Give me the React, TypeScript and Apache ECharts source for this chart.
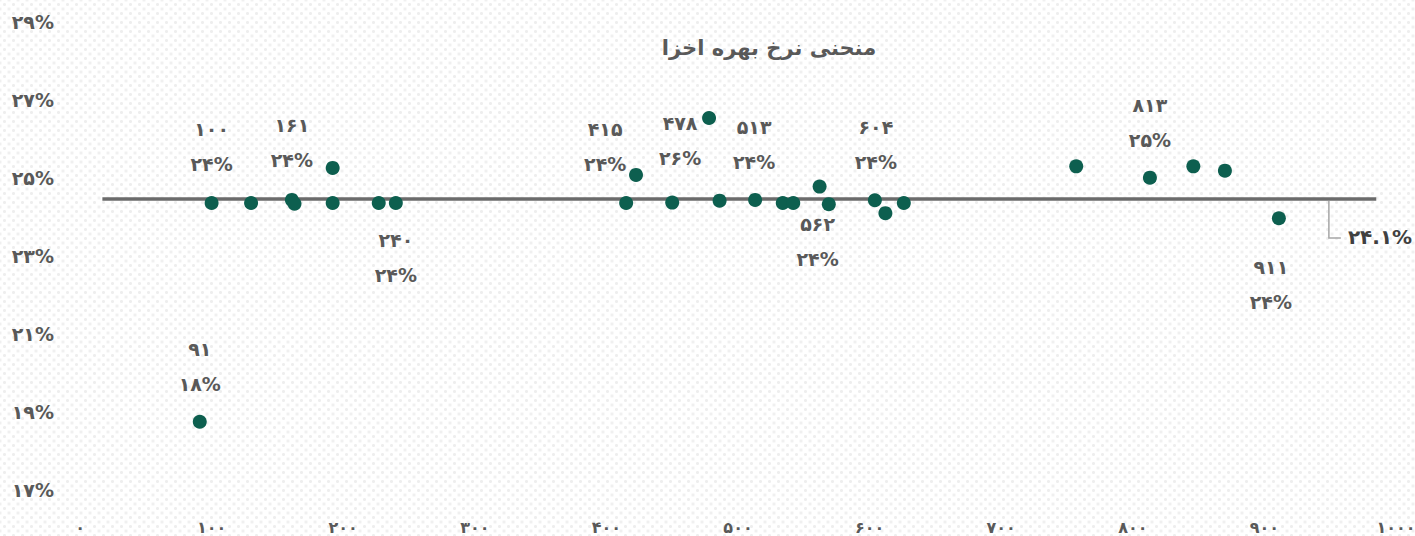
import React, { useEffect, useRef } from "react";
import * as echarts from "echarts";

// ---- data ----
const xValues = [91, 100, 130, 161, 163, 192, 192, 227, 240, 415, 422.5, 450, 478, 486, 513, 534, 542, 562, 569, 604, 612, 626, 757, 813, 846, 870, 911];
const yValues = [18.39, 24.0, 24.0, 24.08, 23.98, 24.9, 24.0, 24.0, 24.0, 24.0, 24.72, 24.01, 26.18, 24.06, 24.08, 24.0, 24.0, 24.42, 23.97, 24.07, 23.74, 24.0, 24.94, 24.65, 24.94, 24.83, 23.61];
const labelledX = [91, 100, 161, 240, 415, 478, 513, 562, 604, 813, 911];
const yTicks = { min: 17, max: 29, interval: 2 };
const xTicks = { min: 0, max: 1000, interval: 100 };
const refValue = 24.1;
const refRange = [17, 985];
const refLabelAt = 949;
const title = "منحنی نرخ بهره اخزا";

// label placement (style, kept apart from the data)
const labelOffsets: number[][] = [[0, -55], [0, -57], [0, -57], [0, 54], [-21, -57], [-29, 23], [-1, -55], [-2, 55], [1, -56], [0, -55], [-8, 66]];

const FONT = '"DejaVu Sans", "Noto Sans", sans-serif';
const GREY = "#595959";
const toFa = (s: string | number) => String(s).replace(/\d/g, (d) => "۰۱۲۳۴۵۶۷۸۹"[+d]);

export default function App() {
  const ref = useRef<HTMLDivElement>(null);
  useEffect(() => {
    document.body.style.margin = "0";
    const chart = echarts.init(ref.current!, null, { renderer: "svg" });
    const points = xValues.map((x, i) => {
      const li = labelledX.indexOf(x);
      const item: any = { value: [x, yValues[i]] };
      if (li >= 0) {
        item.label = {
          show: true,
          position: "inside",
          offset: labelOffsets[li],
        };
      }
      return item;
    });
    chart.setOption({
      animation: false,
      backgroundColor: "transparent",
      grid: { left: 80, right: 19, top: 8, bottom: 60, containLabel: false, outerBoundsMode: "none" },
      xAxis: {
        type: "value",
        min: xTicks.min,
        max: xTicks.max,
        interval: xTicks.interval,
        axisLine: { show: false },
        axisTick: { show: false },
        splitLine: { show: false },
        axisLabel: {
          margin: 43,
          color: GREY,
          fontFamily: FONT,
          fontWeight: "bold",
          fontSize: 16,
          formatter: (v: number) => toFa(v),
        },
      },
      yAxis: {
        type: "value",
        min: yTicks.min,
        max: yTicks.max,
        interval: yTicks.interval,
        axisLine: { show: false },
        axisTick: { show: false },
        splitLine: { show: false },
        axisLabel: {
          margin: 26,
          color: GREY,
          fontFamily: FONT,
          fontWeight: "bold",
          fontSize: 19,
          lineHeight: 28,
          verticalAlign: "middle",
          formatter: (v: number) => "\n" + toFa(v) + "%",
        },
      },
      series: [
        {
          type: "line",
          z: 1,
          data: [[refRange[0], refValue], [refRange[1], refValue]],
          showSymbol: false,
          symbol: "none",
          lineStyle: { color: "#6b6b6b", width: 3.5 },
          silent: true,
        },
        {
          type: "scatter",
          z: 2,
          symbolSize: 14,
          itemStyle: { color: "#0d5f4f", opacity: 1 },
          label: {
            show: false,
            color: GREY,
            fontFamily: FONT,
            fontWeight: "bold",
            fontSize: 19,
            lineHeight: 35,
            align: "center",
            verticalAlign: "middle",
            formatter: (p: any) =>
              toFa(Math.round(p.value[0])) + "\n" + toFa(Math.round(p.value[1])) + "%",
          },
          data: points,
        },
      ],
    });
    const p = chart.convertToPixel({ gridIndex: 0 }, [refLabelAt, refValue]) as number[];
    chart.setOption({
      graphic: [
        {
          type: "text",
          x: 769,
          y: 48,
          style: {
            text: title,
            font: `bold 21px ${FONT}`,
            fill: GREY,
            align: "center",
            verticalAlign: "middle",
          },
        },
        {
          type: "polyline",
          shape: { points: [[p[0], p[1] + 2], [p[0], p[1] + 39], [p[0] + 12, p[1] + 39]] },
          style: { stroke: "#a6a6a6", lineWidth: 1.5, fill: null },
        },
        {
          type: "text",
          x: p[0] + 19,
          y: p[1] + 38,
          style: {
            text: toFa(refValue) + "%",
            font: `bold 20px ${FONT}`,
            fill: "#404040",
            align: "left",
            verticalAlign: "middle",
          },
        },
      ],
    });
    return () => chart.dispose();
  }, []);
  return (
    <div
      ref={ref}
      style={{
        width: 1415,
        height: 536,
        backgroundColor: "#ffffff",
        backgroundImage:
          "radial-gradient(#eeeeee 1.3px, transparent 1.6px), radial-gradient(#eeeeee 1.3px, transparent 1.6px)",
        backgroundSize: "9px 9px",
        backgroundPosition: "0 0, 4.5px 4.5px",
      }}
    />
  );
}
